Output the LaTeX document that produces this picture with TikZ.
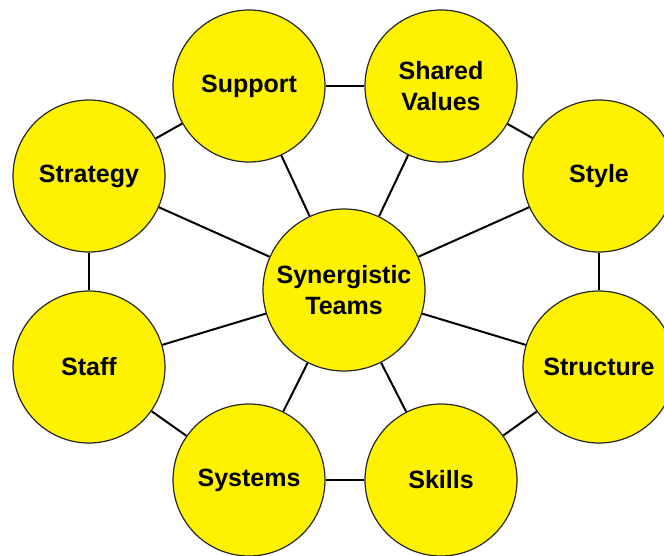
\documentclass[tikz,border=0pt]{standalone}
\usepackage{fontspec}
\setmainfont{Liberation Sans}
\tikzset{
  team/.style={circle,draw=black!85,line width=1.2pt,fill=yellow,minimum size=152pt,
    inner sep=0pt,align=center,font=\bfseries\fontsize{25}{31}\selectfont},
  link/.style={line width=2pt,black}
}
\begin{document}
\begin{tikzpicture}[x=1pt,y=-1pt]
\useasboundingbox (0,0) rectangle (664,555);
\node[team,minimum size=162pt] (core) at (344,290) {Synergistic\\Teams};
\node[team] (support) at (249,86) {Support};
\node[team] (values) at (441,86) {Shared\\Values};
\node[team] (style) at (599,176) {Style};
\node[team] (structure) at (599,367) {Structure};
\node[team] (skills) at (441,480) {Skills};
\node[team] (systems) at (249,480) {Systems};
\node[team] (staff) at (89,367) {Staff};
\node[team] (strategy) at (89,176) {Strategy};
% outer ring
\draw[link] (support) -- (values);
\draw[link] (values) -- (style);
\draw[link] (style) -- (structure);
\draw[link] (structure) -- (skills);
\draw[link] (skills) -- (systems);
\draw[link] (systems) -- (staff);
\draw[link] (staff) -- (strategy);
\draw[link] (strategy) -- (support);
% spokes
\foreach \n in {support,values,style,structure,skills,systems,staff,strategy}
  \draw[link] (core) -- (\n);
\end{tikzpicture}
\end{document}
